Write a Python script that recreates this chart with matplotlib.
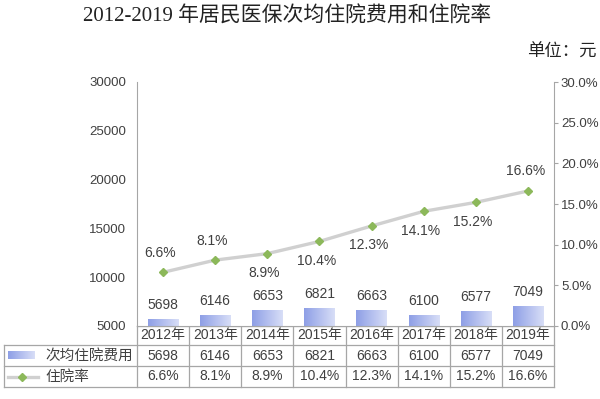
import numpy as np
import matplotlib.pyplot as plt
from matplotlib.colors import LinearSegmentedColormap

plt.rcParams['font.family'] = ['Liberation Sans', 'Noto Sans CJK SC']

years = ['2012年', '2013年', '2014年', '2015年', '2016年', '2017年', '2018年', '2019年']
cost = [5698, 6146, 6653, 6821, 6663, 6100, 6577, 7049]
rate = [6.6, 8.1, 8.9, 10.4, 12.3, 14.1, 15.2, 16.6]
cost_name = '次均住院费用'
rate_name = '住院率'
# label above (1) or below (-1) the marker, as in the source
rate_side = [1, 1, -1, -1, -1, -1, -1, 1]

txt = '#404040'
grid_c = '#a6a6a6'
bar_cmap = LinearSegmentedColormap.from_list('b', ['#8e9fe6', '#d8def7'])

W, H = 600, 399
fig = plt.figure(figsize=(6, 3.99), dpi=100)
x0, x1, ytop, ybot = 137, 554, 82, 326
ax = fig.add_axes([x0 / W, 1 - ybot / H, (x1 - x0) / W, (ybot - ytop) / H])
ax2 = ax.twinx()

x = np.arange(len(years))
bars = ax.bar(x, cost, width=0.58, color='none', zorder=2)
ax.set_xlim(-0.5, len(years) - 0.5)
ax.set_ylim(5000, 30000)
grad = np.linspace(0, 1, 64).reshape(1, -1)
for b in bars:
    im = ax.imshow(grad, cmap=bar_cmap, aspect='auto', zorder=2,
                   extent=[b.get_x(), b.get_x() + b.get_width(), 5000, b.get_height()])
    im.set_clip_path(b)
ax.set_xlim(-0.5, len(years) - 0.5)
ax.set_ylim(5000, 30000)
for xi, v in zip(x, cost):
    ax.annotate(str(v), (xi, v), xytext=(0, 5), textcoords='offset points',
                ha='center', va='bottom', fontsize=10, color=txt)

ax2.plot(x, rate, color='#d0d0d0', lw=2.4, marker='D', ms=4.5,
         mfc='#8cb85a', mec='#8cb85a', zorder=3)
ax2.set_ylim(0, 30)
for xi, v, s in zip(x, rate, rate_side):
    ax2.annotate(f'{v:.1f}%', (xi, v), xytext=(-2, 9 * s), textcoords='offset points',
                 ha='center', va='bottom' if s > 0 else 'top', fontsize=10, color=txt)

ax.set_xticks([])
ax.set_yticks(np.arange(5000, 30001, 5000))
ax.tick_params(axis='y', length=0, pad=8, labelsize=9.5, labelcolor=txt)
ax2.set_yticks(np.arange(0, 31, 5))
ax2.set_yticklabels([f'{v:.1f}%' for v in np.arange(0, 31, 5)])
ax2.tick_params(axis='y', length=3, pad=2, color=grid_c, labelsize=9.5, labelcolor=txt)
for a in (ax, ax2):
    a.spines['top'].set_visible(False)
    for s in ('left', 'right', 'bottom'):
        a.spines[s].set_color(grid_c)
ax.spines['right'].set_visible(False)
ax2.spines['left'].set_visible(False)
ax2.spines['bottom'].set_visible(False)

# data table under the plot, drawn in pixel coordinates
tb = fig.add_axes([0, 0, 1, 1], zorder=-1)
tb.set_xlim(0, W)
tb.set_ylim(H, 0)
tb.axis('off')
cw = (x1 - x0) / len(years)
r0, r1, r2, r3 = ybot, 345, 366, 387
tl = 4
tb.plot([x0, x1], [r0, r0], color=grid_c, lw=0.9)
for yy in (r1, r2, r3):
    tb.plot([tl, x1], [yy, yy], color=grid_c, lw=0.9)
tb.plot([tl, tl], [r1, r3], color=grid_c, lw=0.9)
for i in range(len(years) + 1):
    tb.plot([x0 + i * cw] * 2, [r0, r3], color=grid_c, lw=0.9)
for i, (yr, c, r) in enumerate(zip(years, cost, rate)):
    cx = x0 + (i + 0.5) * cw
    tb.text(cx, (r0 + r1) / 2, yr, ha='center', va='center', fontsize=10, color=txt)
    tb.text(cx, (r1 + r2) / 2, str(c), ha='center', va='center', fontsize=10, color=txt)
    tb.text(cx, (r2 + r3) / 2, f'{r:.1f}%', ha='center', va='center', fontsize=10, color=txt)
tb.imshow(grad, cmap=bar_cmap, aspect='auto', extent=[8, 35, 359, 351])
tb.set_xlim(0, W)
tb.set_ylim(H, 0)
tb.plot([8, 38], [(r2 + r3) / 2] * 2, color='#d0d0d0', lw=2.4)
tb.plot([22], [(r2 + r3) / 2], marker='D', ms=4.5, color='#8cb85a')
tb.text(45, (r1 + r2) / 2, cost_name, ha='left', va='center', fontsize=10.5, color=txt)
tb.text(45, (r2 + r3) / 2, rate_name, ha='left', va='center', fontsize=10.5, color=txt)

fig.text(83 / W, 1 - 17 / H, '2012-2019 年居民医保次均住院费用和住院率', ha='left',
         va='center', fontsize=15, color='#222222',
         family=['Liberation Serif', 'Noto Sans CJK SC'])
fig.text(597 / W, 1 - 53 / H, '单位：元', ha='right', va='center', fontsize=12.5,
         color='#222222', family=['Liberation Serif', 'Noto Sans CJK SC'])

fig.savefig('out.png', dpi=100)
